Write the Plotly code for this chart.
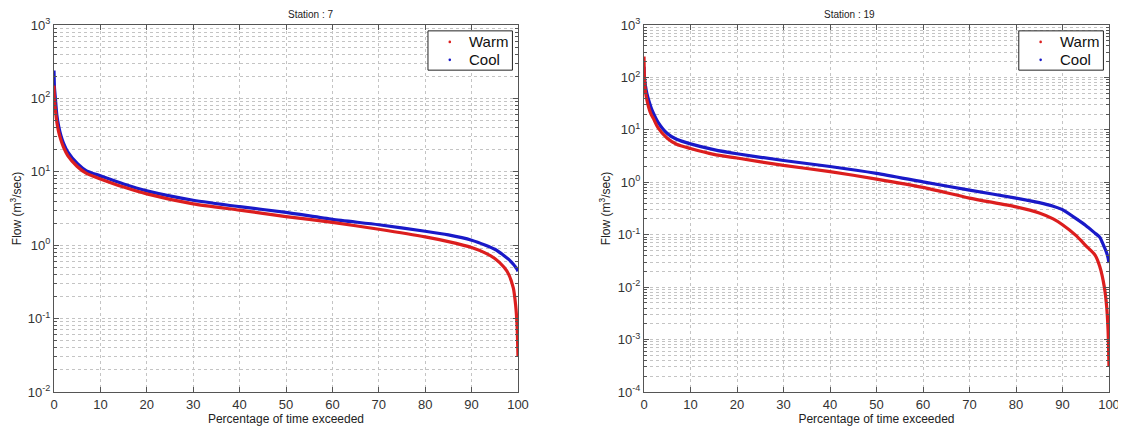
import plotly.graph_objects as go

# flow duration curves (percent exceeded vs flow m3/s)
pct7 = [0, 0.1, 0.3, 0.6, 1, 1.5, 2, 3, 5, 7, 10, 15, 20, 30, 40, 50, 60, 70,
        80, 85, 90, 93, 95, 97, 98, 99, 99.5, 99.8, 100]
warm7 = [150, 95, 70, 48, 35, 27, 22, 16.5, 11.8, 9.5, 8.0, 6.2, 5.0, 3.65, 3.0,
         2.45, 2.05, 1.65, 1.3, 1.12, 0.93, 0.78, 0.66, 0.5, 0.4, 0.26, 0.15, 0.08, 0.03]
cool7 = [240, 140, 100, 60, 42, 31, 25, 18.5, 13, 10.3, 8.8, 6.8, 5.5, 4.1, 3.35,
         2.8, 2.25, 1.9, 1.55, 1.38, 1.17, 1.0, 0.88, 0.72, 0.64, 0.55, 0.5, 0.47, 0.44]

pct19 = [0, 0.1, 0.3, 0.6, 1, 1.5, 2, 3, 5, 7, 10, 15, 20, 30, 40, 50, 60, 70,
         80, 85, 88, 90, 93, 95, 97, 98, 99, 99.5, 99.8, 100]
warm19 = [250, 90, 55, 38, 27, 20, 16.6, 11, 6.9, 5.3, 4.4, 3.4, 2.9, 2.1, 1.6,
          1.15, 0.8, 0.5, 0.34, 0.26, 0.2, 0.155, 0.095, 0.062, 0.041, 0.025,
          0.01, 0.0042, 0.0015, 0.0003]
cool19 = [160, 100, 70, 50, 37, 27, 21, 14, 8.5, 6.6, 5.4, 4.2, 3.5, 2.6, 2.0,
          1.48, 1.02, 0.71, 0.5, 0.41, 0.35, 0.3, 0.2, 0.15, 0.107, 0.09,
          0.058, 0.045, 0.036, 0.029]

titles = ["Station : 7", "Station : 19"]
series_names = ["Warm", "Cool"]
xticks = [0, 10, 20, 30, 40, 50, 60, 70, 80, 90, 100]

RED = "rgb(220,30,30)"
BLUE = "rgb(25,25,200)"
# page body has an 8px margin, so the figure is 8px smaller than the window
W, H = 1118, 421
FONT = "Liberation Sans, Arial, sans-serif"

fig = go.Figure()

panels = [
    (pct7, warm7, cool7, "x", "y", [46, 510], [-2, 3]),
    (pct19, warm19, cool19, "x2", "y2", [636, 1101], [-4, 3]),
]

for i, (p, wm, cl, xa, ya, xpix, yr) in enumerate(panels):
    fig.add_trace(go.Scatter(x=p, y=cl, mode="lines",
                             line=dict(color=BLUE, width=3.2, shape="spline", smoothing=0.6),
                             xaxis=xa, yaxis=ya, name="Cool"))
    fig.add_trace(go.Scatter(x=p, y=wm, mode="lines",
                             line=dict(color=RED, width=3.2, shape="spline", smoothing=0.6),
                             xaxis=xa, yaxis=ya, name="Warm"))

    dom = [xpix[0] / W, xpix[1] / W]
    decades = list(range(yr[0], yr[1] + 1))
    ax = dict(showline=True, linecolor="#555", linewidth=1, mirror="ticks",
              ticks="inside", ticklen=5, tickcolor="#555", automargin=False,
              showgrid=True, gridcolor="#c4c4c4", griddash="dot", gridwidth=1,
              zeroline=False, tickfont=dict(size=13, color="#333", family=FONT))
    xkey = "xaxis" if i == 0 else "xaxis2"
    ykey = "yaxis" if i == 0 else "yaxis2"
    fig.update_layout(**{
        xkey: dict(ax, domain=dom, range=[0, 100], tickvals=xticks, anchor=ya,
                   title=dict(text="Percentage of time exceeded", standoff=0,
                              font=dict(size=12, color="#222", family=FONT))),
        ykey: dict(ax, type="log", range=yr, anchor=xa,
                   tickvals=[10 ** d for d in decades],
                   ticktext=["10<sup>%d</sup>" % d for d in decades],
                   minor=dict(dtick="D1", ticks="inside", ticklen=3, tickcolor="#555",
                              showgrid=True, gridcolor="#c4c4c4", griddash="dot"),
                   title=dict(text="Flow (m<sup>3</sup>/sec)", standoff=4,
                              font=dict(size=12, color="#222", family=FONT))),
    })
    fig.add_annotation(text=titles[i], x=(xpix[0] + xpix[1]) / 2 / W, y=1,
                       xref="paper", yref="paper", yanchor="bottom", yshift=3,
                       showarrow=False, font=dict(size=10, color="#222", family=FONT))

    # matlab style legend box in the upper right corner
    xd, yd = xa + " domain", ya + " domain"
    fig.add_shape(type="rect", xref=xd, yref=yd, x0=0.806, x1=0.988, y0=0.877, y1=0.984,
                  line=dict(color="#222", width=1), fillcolor="white", layer="above")
    for j, (nm, col) in enumerate(zip(series_names, [RED, BLUE])):
        yy = 0.954 - j * 0.049
        fig.add_shape(type="circle", xref=xd, yref=yd, x0=-1.3, x1=1.3, y0=-1.3, y1=1.3,
                      xsizemode="pixel", ysizemode="pixel", xanchor=0.853, yanchor=yy,
                      line=dict(color=col, width=0), fillcolor=col, layer="above")
        fig.add_annotation(text=nm, xref=xd, yref=yd, x=0.890, y=yy, xanchor="left",
                           yanchor="middle", showarrow=False,
                           font=dict(size=15, color="#111", family=FONT))

fig.update_layout(width=W, height=H, margin=dict(l=0, r=0, t=17, b=37),
                  plot_bgcolor="white", paper_bgcolor="white",
                  font=dict(family=FONT), showlegend=False)

fig.write_html("out.html")
